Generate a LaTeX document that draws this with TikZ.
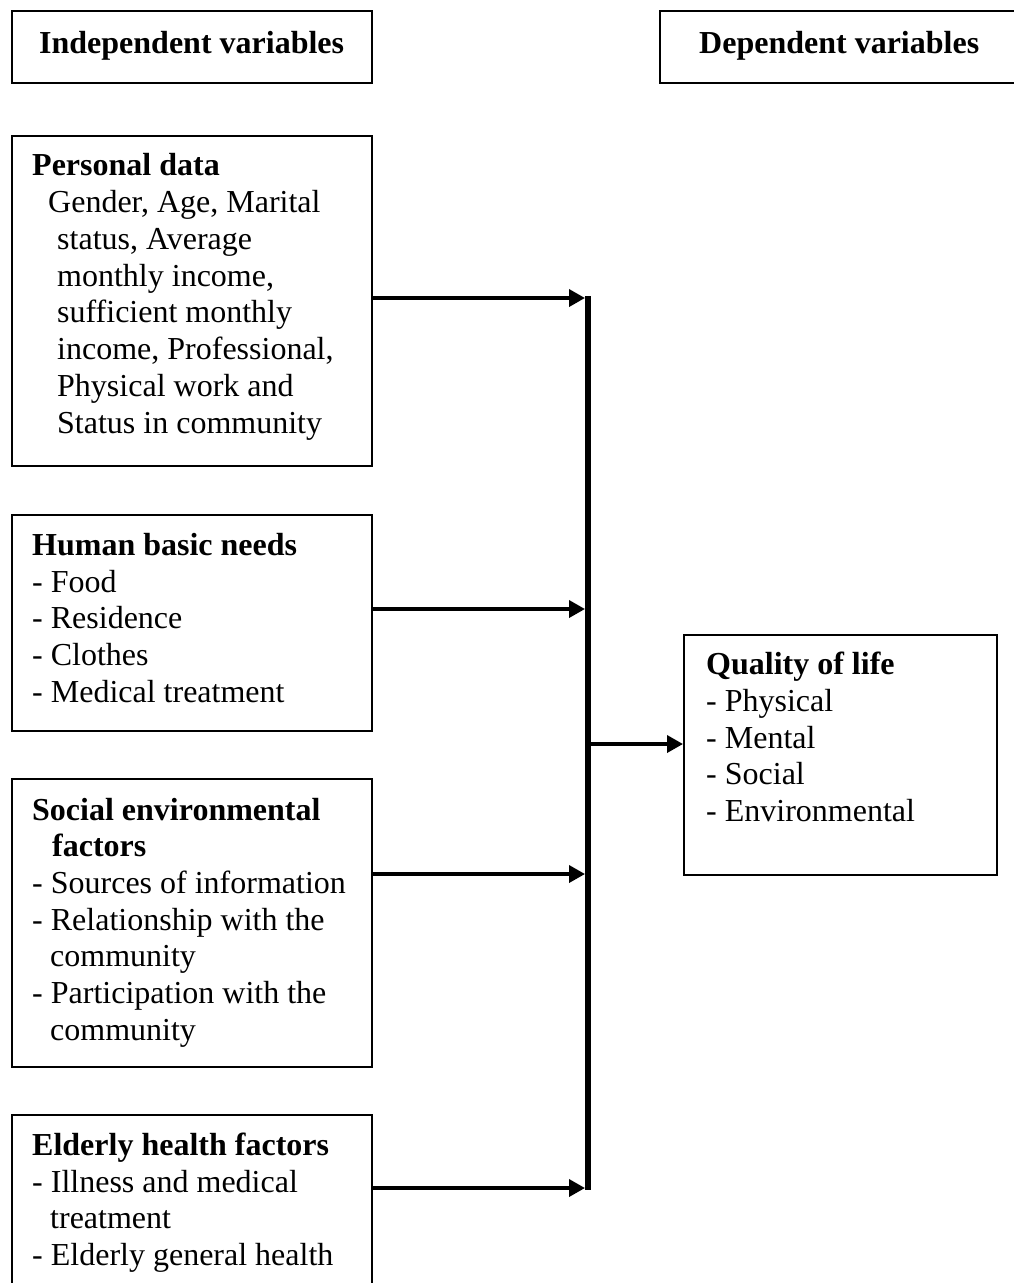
\documentclass[tikz,border=0pt]{standalone}
\usepackage{fontspec}
\setmainfont{Liberation Serif}
\usetikzlibrary{arrows.meta}
\tikzset{
  box/.style={draw, line width=1.6pt, inner sep=0pt},
  txt/.style={anchor=base west, inner sep=0pt, font=\fontsize{32}{37}\selectfont},
  ttl/.style={txt, font=\fontsize{32}{37}\selectfont\bfseries},
  conn/.style={line width=3.6pt, -{Triangle[length=16pt,width=17pt]}},
  bus/.style={line width=6pt}
}
\begin{document}
\begin{tikzpicture}[x=1pt,y=-1pt]
\useasboundingbox (0,0) rectangle (1014,1283);
% header boxes
\node[box, minimum width=360pt, minimum height=72pt, anchor=north west] (indep) at (11,10) {};
\node[box, minimum width=380pt, minimum height=72pt, anchor=north west] (dep) at (659,10) {};
\node[ttl] (indept) at (39,53) {Independent variables};
\node[ttl] (dept) at (699,53) {Dependent variables};

% Personal data
\node[box, minimum width=360pt, minimum height=330pt, anchor=north west] (pd) at (11,135) {};
\node[ttl] (pd0) at (32,175) {Personal data};
\node[txt] (pd1) at (48,212) {Gender, Age, Marital};
\node[txt] (pd2) at (57,249) {status, Average};
\node[txt] (pd3) at (57,286) {monthly income,};
\node[txt] (pd4) at (57,322) {sufficient monthly};
\node[txt] (pd5) at (57,359) {income, Professional,};
\node[txt] (pd6) at (57,396) {Physical work and};
\node[txt] (pd7) at (57,433) {Status in community};

% Human basic needs
\node[box, minimum width=360pt, minimum height=216pt, anchor=north west] (hb) at (11,514) {};
\node[ttl] (hb0) at (32,555) {Human basic needs};
\node[txt] (hb1) at (32,592) {- Food};
\node[txt] (hb2) at (32,628) {- Residence};
\node[txt] (hb3) at (32,665) {- Clothes};
\node[txt] (hb4) at (32,702) {- Medical treatment};

% Social environmental factors
\node[box, minimum width=360pt, minimum height=288pt, anchor=north west] (se) at (11,778) {};
\node[ttl] (se0) at (32,820) {Social environmental};
\node[ttl] (se1) at (52,856) {factors};
\node[txt] (se2) at (32,893) {- Sources of information};
\node[txt] (se3) at (32,930) {- Relationship with the};
\node[txt] (se4) at (50,966) {community};
\node[txt] (se5) at (32,1003) {- Participation with the};
\node[txt] (se6) at (50,1040) {community};

% Elderly health factors
\node[box, minimum width=360pt, minimum height=200pt, anchor=north west] (eh) at (11,1114) {};
\node[ttl] (eh0) at (32,1155) {Elderly health factors};
\node[txt] (eh1) at (32,1192) {- Illness and medical};
\node[txt] (eh2) at (50,1228) {treatment};
\node[txt] (eh3) at (32,1265) {- Elderly general health};

% Quality of life
\node[box, minimum width=313pt, minimum height=240pt, anchor=north west] (ql) at (683,634) {};
\node[ttl] (ql0) at (706,674) {Quality of life};
\node[txt] (ql1) at (706,711) {- Physical};
\node[txt] (ql2) at (706,748) {- Mental};
\node[txt] (ql3) at (706,784) {- Social};
\node[txt] (ql4) at (706,821) {- Environmental};

% connectors
\coordinate (b1) at (585,298);
\coordinate (b2) at (585,609);
\coordinate (b3) at (585,874);
\coordinate (b4) at (585,1188);
\coordinate (btop) at (587.5,296);
\coordinate (bbot) at (587.5,1190);
\coordinate (bmid) at (590,744);
\draw[bus] (btop) -- (bbot);
\draw[conn] (pd.east |- b1) -- (b1);
\draw[conn] (hb.east |- b2) -- (b2);
\draw[conn] (se.east |- b3) -- (b3);
\draw[conn] (eh.east |- b4) -- (b4);
\draw[conn] (bmid) -- (ql.west |- bmid);
\end{tikzpicture}
\end{document}
